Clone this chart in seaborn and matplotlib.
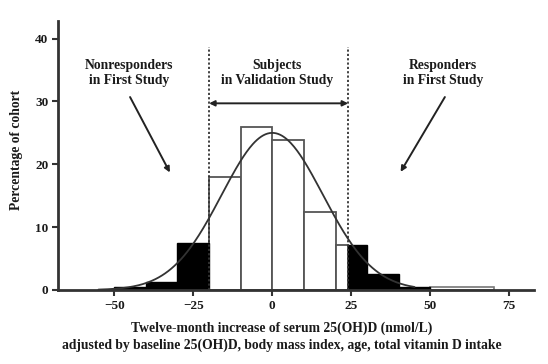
import numpy as np
import pandas as pd
import matplotlib
matplotlib.use("Agg")
import matplotlib.pyplot as plt
import seaborn as sns

# ---- data ----
left_black_edges = [-50, -40, -30, -20]
left_black_pct = [0.4, 1.3, 7.4]
mid_white_edges = [-20, -10, 0, 10, 20, 24]
mid_white_pct = [18.0, 26.0, 23.8, 12.4, 7.2]
right_black_edges = [24, 30, 40, 50]
right_black_pct = [7.2, 2.6, 0.4]
far_white_edges = [50, 70]
far_white_pct = [0.4]

# fitted normal curve (parameters)
curve_mean = 0.0
curve_sd = 16.0
curve_peak = 25.0
curve_range = (-55, 45)

cut_low, cut_high = -20, 24
x_ticks = [-50, -25, 0, 25, 50, 75]
y_ticks = [0, 10, 20, 30, 40]

sns.set_style("ticks")
plt.rcParams['font.family'] = ['Liberation Serif', 'DejaVu Serif']
plt.rcParams['font.weight'] = 'bold'

FS = 9.8
fig = plt.figure(figsize=(5.48, 3.64), dpi=100)
ax = fig.add_axes([58/548, 1-290/364, (534-58)/548, (290-21)/364])

def hist(edges, vals, face, edge, lw):
    centers = [(a + b) / 2 for a, b in zip(edges[:-1], edges[1:])]
    df = pd.DataFrame({"x": centers, "w": vals})
    sns.histplot(data=df, x="x", weights="w", bins=edges, stat="count",
                 color=face, edgecolor=edge, linewidth=lw, alpha=1, ax=ax)

hist(mid_white_edges, mid_white_pct, "white", "#555555", 1.3)
hist(far_white_edges, far_white_pct, "white", "#777777", 1.2)
hist(left_black_edges, left_black_pct, "black", "black", 1.0)
hist(right_black_edges, right_black_pct, "black", "black", 1.0)

cx = np.linspace(curve_range[0], curve_range[1], 300)
cy = curve_peak * np.exp(-0.5 * ((cx - curve_mean) / curve_sd) ** 2)
sns.lineplot(x=cx, y=cy, color="#333333", lw=1.3, ax=ax)

for c in (cut_low, cut_high):
    ax.plot([c, c], [0, 38.6], color="#333333", lw=1.3, ls=(0, (1.2, 1.2)))

ax.annotate("", xy=(cut_low, 29.7), xytext=(cut_high, 29.7),
            arrowprops=dict(arrowstyle="<|-|>", color="#222222", lw=1.4,
                            mutation_scale=8, shrinkA=0, shrinkB=0))
ax.annotate("", xy=(-32.4, 18.7), xytext=(-45, 30.7),
            arrowprops=dict(arrowstyle="-|>", color="#222222", lw=1.4,
                            mutation_scale=8, shrinkA=0, shrinkB=0))
ax.annotate("", xy=(40.6, 18.8), xytext=(54.6, 30.7),
            arrowprops=dict(arrowstyle="-|>", color="#222222", lw=1.4,
                            mutation_scale=8, shrinkA=0, shrinkB=0))

tk = dict(ha="center", va="center", fontsize=FS, fontweight="bold", color="#1a1a1a",
          linespacing=1.2)
ax.text(-45.4, 34.6, "Nonresponders\nin First Study", **tk)
ax.text(1.5, 34.6, "Subjects\nin Validation Study", **tk)
ax.text(53.9, 34.6, "Responders\nin First Study", **tk)

ax.set_xlim(-67.8, 82.8)
ax.set_ylim(0, 42.8)
ax.set_xticks(x_ticks)
ax.set_yticks(y_ticks)
ax.set_xlabel("")
ax.set_ylabel("")
for lab in ax.get_xticklabels() + ax.get_yticklabels():
    lab.set_fontweight("bold")
    lab.set_fontsize(9.5)
    lab.set_color("#1a1a1a")
ax.tick_params(direction="out", length=4, width=1.5, color="#333333", pad=3)
for s in ("top", "right"):
    ax.spines[s].set_visible(False)
for s in ("left", "bottom"):
    ax.spines[s].set_linewidth(2)
    ax.spines[s].set_color("#333333")

fig.text(282/548, 1-328/364, "Twelve-month increase of serum 25(OH)D (nmol/L)",
         ha="center", va="center", fontsize=FS, fontweight="bold", color="#1a1a1a")
fig.text(282/548, 1-345/364,
         "adjusted by baseline 25(OH)D, body mass index, age, total vitamin D intake",
         ha="center", va="center", fontsize=FS, fontweight="bold", color="#1a1a1a")
fig.text(17/548, 1-150/364, "Percentage of cohort", rotation=90,
         ha="center", va="center", fontsize=FS, fontweight="bold", color="#1a1a1a")

fig.savefig("out.png", dpi=100)
